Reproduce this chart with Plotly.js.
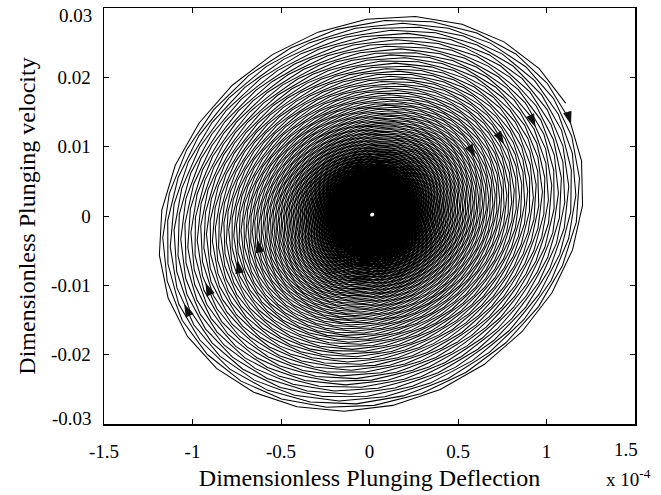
<!DOCTYPE html>
<html><head><meta charset="utf-8">
<script src="https://cdn.plot.ly/plotly-3.0.1.min.js"></script>
<style>html,body{margin:0;padding:0;background:#fff}#chart{width:661px;height:495px}</style>
</head><body><div id="chart"></div>
<script>
// Tick labels (x in units of 1e-4)
const xTickVals = [-1.5, -1, -0.5, 0, 0.5, 1, 1.5];
const xTickText = ['-1.5', '-1', '-0.5', '0', '0.5', '1', '1.5'];
const yTickVals = [-0.03, -0.02, -0.01, 0, 0.01, 0.02, 0.03];
const yTickText = ['-0.03', '-0.02', '-0.01', '0', '0.01', '0.02', '0.03'];

// Phase-plane trajectory, values
const centerDeflection = 0.015;     // x 1e-4
const centerVelocity = 0.0002;
const outerDeflectionAmp = 1.214;   // x 1e-4
const outerVelocityAmp = 0.0287;
const innerAmpFraction = 0.012;
const growthPerTurn = 0.018;
const samplesPerTurn = 27.382;
const phaseLag = 0.145;
const endPhase = -0.45;

// Arrow head tips
const arrowDeflection = [0.603, 0.767, 0.947, 1.185, -0.629, -0.747, -0.922, -1.052];
const arrowVelocity = [0.0085, 0.0104, 0.0129, 0.0135, -0.00333, -0.00636, -0.00953, -0.0127];

// Build trajectory (growing oscillation, clockwise in the phase plane)
const turns = Math.log(1 / innerAmpFraction) / growthPerTurn;
const nSamples = Math.round(turns * samplesPerTurn);
const trajX = [], trajV = [];
for (let k = 0; k <= nSamples; k++) {
  const th = endPhase - 2 * Math.PI * (nSamples - k) / samplesPerTurn;
  const s = Math.exp(-growthPerTurn * (nSamples - k) / samplesPerTurn);
  trajX.push(centerDeflection + outerDeflectionAmp * s * Math.cos(th));
  trajV.push(centerVelocity - outerVelocityAmp * s * Math.sin(th - phaseLag));
}

// Axis geometry for arrow orientation
const margin = {l: 104, r: 26, t: 8, b: 71};
const W = 661, H = 495;
const xRange = [-1.5, 1.5], yRange = [-0.0300001, 0.0300001];
const pxX = (W - margin.l - margin.r) / (xRange[1] - xRange[0]);
const pxY = (H - margin.t - margin.b) / (yRange[1] - yRange[0]);

const arrX = [], arrV = [], arrAng = [];
for (let a = 0; a < arrowDeflection.length; a++) {
  const qx = arrowDeflection[a] * pxX, qy = arrowVelocity[a] * pxY;
  let best = Infinity, bx = 0, bv = 0, ang = 0;
  for (let k = 1; k < trajX.length; k++) {
    const x0 = trajX[k - 1] * pxX, y0 = trajV[k - 1] * pxY;
    const x1 = trajX[k] * pxX, y1 = trajV[k] * pxY;
    const dx = x1 - x0, dy = y1 - y0;
    const L2 = dx * dx + dy * dy;
    if (L2 === 0) continue;
    let t = ((qx - x0) * dx + (qy - y0) * dy) / L2;
    t = Math.max(0, Math.min(1, t));
    const px = x0 + t * dx, py = y0 + t * dy;
    const d = (px - qx) * (px - qx) + (py - qy) * (py - qy);
    if (d < best) {
      best = d; bx = px / pxX; bv = py / pxY;
      ang = Math.atan2(dx, dy) * 180 / Math.PI;
    }
  }
  arrX.push(bx); arrV.push(bv); arrAng.push(ang);
}

const traces = [
  {x: trajX, y: trajV, type: 'scatter', mode: 'lines',
   line: {color: '#000', width: 1.05, simplify: false}, hoverinfo: 'skip'},
  {x: arrX, y: arrV, type: 'scatter', mode: 'markers',
   marker: {symbol: 'arrow', size: 14, angle: arrAng, color: '#111', line: {width: 0}},
   hoverinfo: 'skip'}
];

const font = '"Liberation Serif", "Times New Roman", Times, serif';
const tickFont = {size: 19, family: font, color: '#000'};
const axisCommon = {
  ticks: 'inside', ticklen: 5, tickwidth: 1, tickcolor: '#000',
  showline: true, linewidth: 1.5, linecolor: '#000', mirror: 'ticks',
  showgrid: false, zeroline: false, tickfont: tickFont
};

// Edge labels are nudged inward as in the reference, so they are drawn as annotations
const yLast = yTickText.length - 1, xLast = xTickText.length - 1;
const yInnerVals = yTickVals.slice(1, yLast), yInnerText = yTickText.slice(1, yLast);
const xAxisVals = xTickVals.slice(0, xLast), xAxisText = xTickText.slice(0, xLast);

const layout = {
  width: W, height: H, margin: margin,
  paper_bgcolor: '#fff', plot_bgcolor: '#fff', showlegend: false,
  font: {family: font, color: '#000', size: 19},
  xaxis: Object.assign({}, axisCommon, {
    range: xRange, tickmode: 'array', tickvals: xAxisVals, ticktext: xAxisText,
    ticklabelstandoff: 10,
    title: {text: 'Dimensionless Plunging Deflection', font: {size: 24, family: font}, standoff: 8}
  }),
  yaxis: Object.assign({}, axisCommon, {
    range: yRange, tickmode: 'array', tickvals: yInnerVals, ticktext: yInnerText,
    ticklabelstandoff: 8,
    title: {text: 'Dimensionless Plunging velocity', font: {size: 24, family: font}, standoff: 8}
  }),
  annotations: [
    {text: 'x 10<sup>-4</sup>', xref: 'paper', yref: 'paper', x: 1, y: 0,
     xanchor: 'left', yanchor: 'middle', xshift: -31, yshift: -54,
     showarrow: false, font: tickFont},
    {text: yTickText[yLast], xref: 'paper', yref: 'y', x: 0, y: yTickVals[yLast],
     xanchor: 'right', yanchor: 'middle', xshift: -10, yshift: -7,
     showarrow: false, font: tickFont},
    {text: yTickText[0], xref: 'paper', yref: 'y', x: 0, y: yTickVals[0],
     xanchor: 'right', yanchor: 'middle', xshift: -10, yshift: 6,
     showarrow: false, font: tickFont},
    {text: xTickText[xLast], xref: 'x', yref: 'paper', x: xTickVals[xLast], y: 0,
     xanchor: 'center', yanchor: 'middle', xshift: -9, yshift: -25,
     showarrow: false, font: tickFont}
  ]
};

Plotly.newPlot('chart', traces, layout, {staticPlot: true, displayModeBar: false});
</script></body></html>
